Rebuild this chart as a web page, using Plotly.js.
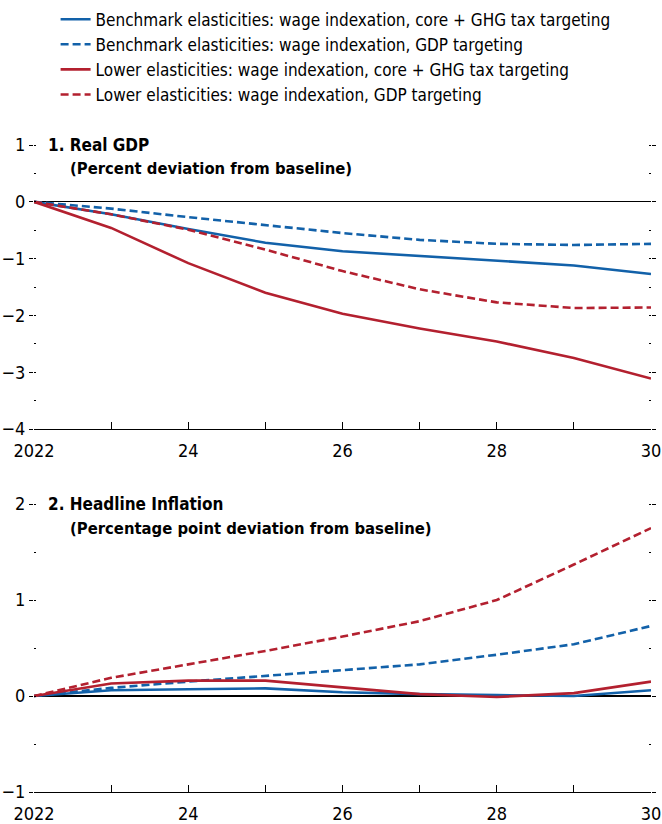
<!DOCTYPE html>
<html>
<head>
<meta charset="utf-8">
<script src="https://cdn.plot.ly/plotly-3.0.1.min.js"></script>
<style>html,body{margin:0;padding:0;background:#fff;}#chart{width:662px;height:824px;}</style>
</head>
<body>
<div id="chart"></div>
<script>
const years = [2022, 2023, 2024, 2025, 2026, 2027, 2028, 2029, 2030];
const xTickText = ["2022", "", "24", "", "26", "", "28", "", "30"];

const seriesNames = [
  "Benchmark elasticities: wage indexation, core + GHG tax targeting",
  "Benchmark elasticities: wage indexation, GDP targeting",
  "Lower elasticities: wage indexation, core + GHG tax targeting",
  "Lower elasticities: wage indexation, GDP targeting"
];

// Panel 1: Real GDP (percent deviation from baseline)
const gdpBenchCore = [0, -0.22, -0.48, -0.72, -0.87, -0.95, -1.03, -1.12, -1.27];
const gdpBenchGdp  = [0, -0.12, -0.27, -0.41, -0.55, -0.67, -0.74, -0.76, -0.74];
const gdpLowerCore = [0, -0.46, -1.08, -1.6, -1.97, -2.23, -2.46, -2.75, -3.11];
const gdpLowerGdp  = [0, -0.22, -0.49, -0.84, -1.22, -1.54, -1.77, -1.87, -1.86];

// Panel 2: Headline inflation (percentage point deviation from baseline)
const infBenchCore = [0, 0.06, 0.07, 0.08, 0.04, 0.02, 0.01, 0.0, 0.06];
const infBenchGdp  = [0, 0.085, 0.15, 0.21, 0.27, 0.33, 0.43, 0.54, 0.73];
const infLowerCore = [0, 0.13, 0.16, 0.16, 0.09, 0.02, -0.01, 0.03, 0.15];
const infLowerGdp  = [0, 0.19, 0.33, 0.47, 0.62, 0.78, 1.0, 1.37, 1.75];

const panelTitles = ["1. Real GDP", "2. Headline Inflation"];
const panelSubtitles = ["(Percent deviation from baseline)", "(Percentage point deviation from baseline)"];

const BLUE = "#1261a9";
const RED = "#b3202f";
const DASH = "8px,4px";
const styles = [
  {color: BLUE, dash: "solid"},
  {color: BLUE, dash: DASH},
  {color: RED, dash: "solid"},
  {color: RED, dash: DASH}
];

const gdpData = [gdpBenchCore, gdpBenchGdp, gdpLowerCore, gdpLowerGdp];
const infData = [infBenchCore, infBenchGdp, infLowerCore, infLowerGdp];

const FONT = "'DejaVu Sans Condensed', 'Liberation Sans Narrow', 'Arial Narrow', sans-serif";

const traces = [];
gdpData.forEach((ys, i) => {
  traces.push({
    x: years, y: ys, type: "scatter", mode: "lines",
    name: seriesNames[i], xaxis: "x", yaxis: "y",
    line: {color: styles[i].color, dash: styles[i].dash, width: 2.6},
    showlegend: true
  });
});
infData.forEach((ys, i) => {
  traces.push({
    x: years, y: ys, type: "scatter", mode: "lines",
    name: seriesNames[i], xaxis: "x2", yaxis: "y2",
    line: {color: styles[i].color, dash: styles[i].dash, width: 2.6},
    showlegend: false
  });
});

const xCommon = {
  range: [2022, 2030],
  tickmode: "array", tickvals: years, ticktext: xTickText,
  ticks: "inside", ticklen: 7, tickcolor: "#000", tickwidth: 1,
  ticklabelstandoff: 5,
  showline: true, linecolor: "#000", linewidth: 1,
  showgrid: false, zeroline: false,
  tickfont: {family: FONT, size: 18, color: "#000"},
  fixedrange: true
};
const yCommon = {
  ticks: "outside", ticklen: 4, tickcolor: "#000", tickwidth: 1,
  mirror: "ticks", showline: false,
  showgrid: false,
  zeroline: true, zerolinecolor: "#000", zerolinewidth: 1.3,
  tickfont: {family: FONT, size: 18, color: "#000"},
  minor: {dtick: 0.5, ticks: "inside", ticklen: 2, tickcolor: "#000", tickwidth: 1},
  fixedrange: true
};

const layout = {
  width: 662, height: 824,
  paper_bgcolor: "#fff", plot_bgcolor: "#fff",
  margin: {l: 34, r: 11, t: 145, b: 32},
  font: {family: FONT, color: "#000"},
  showlegend: true,
  legend: {
    x: 0.035, xanchor: "left", xref: "paper",
    y: 0.998, yanchor: "top", yref: "container",
    font: {family: FONT, size: 17, color: "#000"},
    bgcolor: "rgba(0,0,0,0)", borderwidth: 0,
    traceorder: "normal", tracegroupgap: 0
  },
  xaxis: Object.assign({}, xCommon, {anchor: "y", domain: [0, 1]}),
  yaxis: Object.assign({}, yCommon, {domain: [0.561, 1], range: [-4, 1], dtick: 1, tick0: 0}),
  xaxis2: Object.assign({}, xCommon, {anchor: "y2", domain: [0, 1]}),
  yaxis2: Object.assign({}, yCommon, {domain: [0, 0.445], range: [-1, 2], dtick: 1, tick0: 0}),
  annotations: [
    {text: "<b>" + panelTitles[0] + "</b>", xref: "paper", yref: "paper", x: 0.02, y: 1, xanchor: "left", yanchor: "middle", showarrow: false, font: {family: FONT, size: 17, color: "#000"}},
    {text: "<b>" + panelSubtitles[0] + "</b>", xref: "paper", yref: "paper", x: 0.055, y: 0.963, xanchor: "left", yanchor: "middle", showarrow: false, font: {family: FONT, size: 16.5, color: "#000"}},
    {text: "<b>" + panelTitles[1] + "</b>", xref: "paper", yref: "paper", x: 0.02, y: 0.445, xanchor: "left", yanchor: "middle", showarrow: false, font: {family: FONT, size: 17, color: "#000"}},
    {text: "<b>" + panelSubtitles[1] + "</b>", xref: "paper", yref: "paper", x: 0.055, y: 0.408, xanchor: "left", yanchor: "middle", showarrow: false, font: {family: FONT, size: 16.5, color: "#000"}}
  ]
};

Plotly.newPlot("chart", traces, layout, {displayModeBar: false, staticPlot: true});
</script>
</body>
</html>
